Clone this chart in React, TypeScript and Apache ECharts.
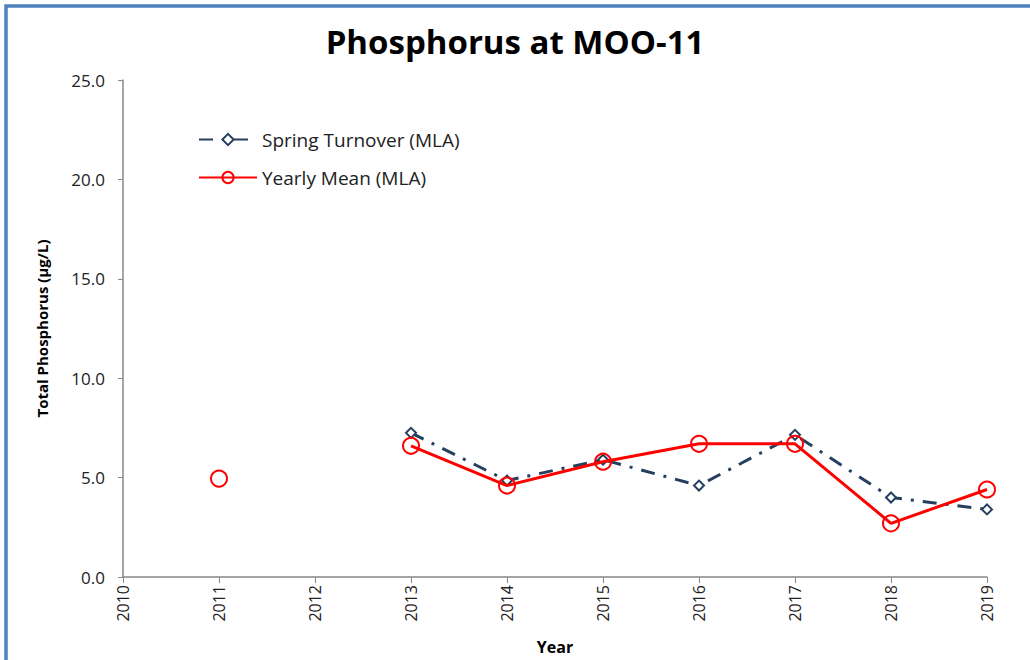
import React, { useEffect, useRef } from "react";
import * as echarts from "echarts";

const years = ["2010", "2011", "2012", "2013", "2014", "2015", "2016", "2017", "2018", "2019"];
const springTurnover = [null, null, null, 7.25, 4.85, 5.9, 4.6, 7.15, 4.0, 3.4];
const yearlyMean = [null, 4.95, null, 6.6, 4.6, 5.8, 6.7, 6.7, 2.7, 4.4];
const yTicks = [0, 5, 10, 15, 20, 25];

export default function App() {
  const ref = useRef<HTMLDivElement>(null);
  useEffect(() => {
    if (!ref.current) return;
    const chart = echarts.init(ref.current, null, { renderer: "svg" });
    const navy = "#243F60";
    chart.setOption({
      animation: false,
      backgroundColor: "#ffffff",
      title: {
        text: "Phosphorus at MOO-11",
        left: "center",
        top: 20,
        textStyle: { fontFamily: "Open Sans", fontWeight: "bold", fontSize: 33, color: "#000" },
      },
      graphic: [
        {
          type: "rect",
          shape: { x: 6, y: 6, width: 1100, height: 700 },
          style: { fill: "none", stroke: "#4F81BD", lineWidth: 3.5 },
          silent: true,
        },
      ],
      legend: {
        orient: "vertical",
        left: 193,
        top: 125,
        itemGap: 19,
        itemWidth: 58,
        itemHeight: 14,
        textStyle: { fontFamily: "Open Sans", fontSize: 19, color: "#222" },
        data: ["Spring Turnover (MLA)", "Yearly Mean (MLA)"],
      },
      grid: { left: 123, right: 43, top: 80, bottom: 79 },
      xAxis: {
        type: "category",
        data: years,
        boundaryGap: false,
        name: "Year",
        nameLocation: "middle",
        nameGap: 62,
        nameTextStyle: { fontFamily: "Open Sans", fontWeight: "bold", fontSize: 16, color: "#000" },
        axisLine: { lineStyle: { color: "#888", width: 1.5 } },
        axisTick: { show: true, alignWithLabel: true, length: 6, lineStyle: { color: "#888" } },
        axisLabel: { rotate: 90, fontFamily: "Open Sans", fontSize: 16, color: "#222", margin: 8 },
        splitLine: { show: false },
      },
      yAxis: {
        type: "value",
        min: 0,
        max: 25,
        interval: 5,
        name: "Total Phosphorus (µg/L)",
        nameLocation: "middle",
        nameGap: 74,
        nameTextStyle: { fontFamily: "Open Sans", fontWeight: "bold", fontSize: 15, color: "#000" },
        axisLine: { show: true, lineStyle: { color: "#888", width: 1.5 } },
        axisTick: { show: true, length: 5, lineStyle: { color: "#888" } },
        axisLabel: {
          fontFamily: "Open Sans",
          fontSize: 17,
          color: "#222",
          margin: 18,
          formatter: (v: number) => (yTicks.includes(v) ? v.toFixed(1) : ""),
        },
        splitLine: { show: false },
      },
      series: [
        {
          name: "Spring Turnover (MLA)",
          type: "line",
          data: springTurnover,
          connectNulls: false,
          symbol: "diamond",
          symbolSize: 10,
          showAllSymbol: true,
          lineStyle: { color: navy, width: 3, type: [14, 9, 3, 9] },
          itemStyle: { color: "#ffffff", borderColor: navy, borderWidth: 2 },
          z: 2,
        },
        {
          name: "Yearly Mean (MLA)",
          type: "line",
          data: yearlyMean,
          connectNulls: false,
          symbol: "circle",
          symbolSize: 16,
          showAllSymbol: true,
          lineStyle: { color: "#FF0000", width: 3 },
          itemStyle: { color: "rgba(255,255,255,0)", borderColor: "#FF0000", borderWidth: 2 },
          z: 3,
        },
      ],
    });
    return () => chart.dispose();
  }, []);
  return (
    <div
      ref={ref}
      style={{ position: "absolute", left: 0, top: 0, width: 1030, height: 660 }}
    />
  );
}
